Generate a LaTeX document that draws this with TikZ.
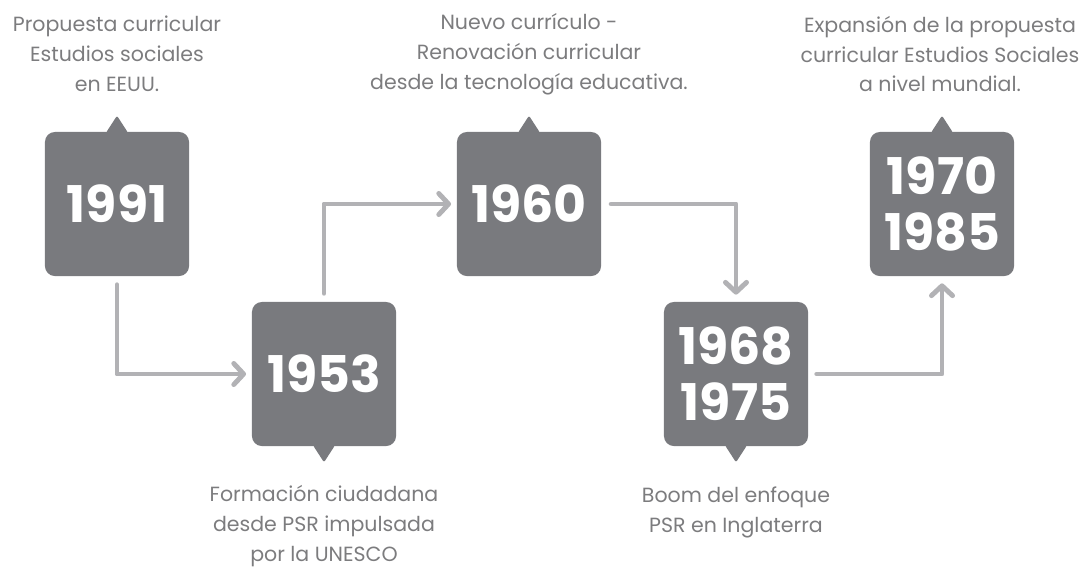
\documentclass[tikz,border=0pt]{standalone}
\usepackage{fontspec}
\setsansfont{Poppins}
\usetikzlibrary{arrows.meta,positioning}
\definecolor{boxgray}{RGB}{121,122,126}
\definecolor{linegray}{RGB}{178,178,181}
\definecolor{textgray}{RGB}{124,124,126}

\begin{document}
\begin{tikzpicture}[x=0.025cm, y=-0.025cm,
    yearbox/.style={fill=boxgray, rounded corners=7pt, minimum size=3.6cm, inner sep=0pt,
        text=white, align=center, font=\sffamily\bfseries\fontsize{36}{40}\selectfont},
    note/.style={text=textgray, align=center, inner sep=1pt, font=\sffamily\fontsize{14.6}{21.3}\selectfont},
    flow/.style={linegray, line width=3.5pt, line cap=round, line join=round,
        -{Straight Barb[length=7pt, width=15pt, round]}}]
    \useasboundingbox (0,0) rectangle (1088,568);

    %year boxes
    \node[yearbox] (y1991) at (117,204) {1991};
    \node[yearbox] (y1953) at (324,374) {1953};
    \node[yearbox] (y1960) at (529,204) {1960};
    \node[yearbox] (y1968) at (736,374) {1968\\1975};
    \node[yearbox] (y1970) at (942,204) {1970\\1985};

    %pointers
    \foreach \n in {y1991,y1960,y1970} {
        \fill[boxgray, rounded corners=1pt] (\n.north) ++(-11,1) -- ++(11,-17) -- ++(11,17) -- cycle;
    }
    \foreach \n in {y1953,y1968} {
        \fill[boxgray, rounded corners=1pt] (\n.south) ++(-11,-1) -- ++(11,17) -- ++(11,-17) -- cycle;
    }

    %notes
    \node[note] (n1991) at (117,54) {Propuesta curricular\\Estudios sociales\\en EEUU.};
    \node[note] (n1953) at (324,526) {Formación ciudadana\\desde PSR impulsada\\por la UNESCO};
    \node[note] (n1960) at (529,54) {Nuevo currículo -\\Renovación curricular\\desde la tecnología educativa.};
    \node[note] (n1968) at (736,512) {Boom del enfoque\\PSR en Inglaterra};
    \node[note] (n1970) at (940,54) {Expansión de la propuesta\\curricular Estudios Sociales\\a nivel mundial.};

    %connectors
    \draw[flow, shorten <=6pt, shorten >=4pt] (y1991.south) |- (y1953.west);
    \draw[flow, shorten <=6pt, shorten >=4pt] (y1953.north) |- (y1960.west);
    \draw[flow, shorten <=7pt, shorten >=5pt] (y1960.east) -| (y1968.north);
    \draw[flow, shorten <=6pt, shorten >=5pt] (y1968.east) -| (y1970.south);
\end{tikzpicture}
\end{document}
